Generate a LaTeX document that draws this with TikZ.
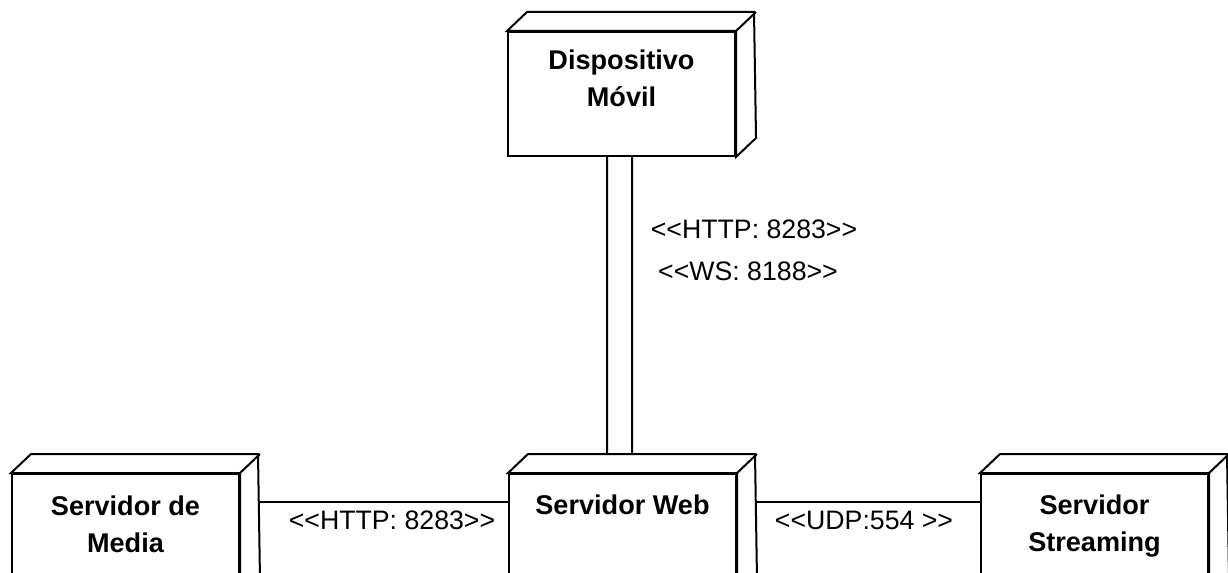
\documentclass[tikz,border=0pt]{standalone}
\usepackage{fontspec}
\newfontfamily\arial{Liberation Sans}
\begin{document}
\begin{tikzpicture}[x=0.5bp,y=-0.5bp,
  front/.style={draw, line width=1bp, fill=white, minimum width=113.5bp, minimum height=62bp, inner sep=0pt, anchor=north west},
  face/.style={draw, line width=1bp, fill=white, line join=miter},
  title/.style={align=center, anchor=north, inner sep=0pt, font=\arial\bfseries\fontsize{13.6}{19}\selectfont},
  lab/.style={inner sep=0pt, font=\arial\fontsize{13.4}{16}\selectfont},
  conn/.style={draw, line width=1bp}]
\useasboundingbox (0,0) rectangle (1228,573);
\clip (0,0) rectangle (1228,573);
\fill[white] (0,0) rectangle (1228,573);

% boxes (front faces)
\node[front] (dm) at (507,31) {};
\node[front] (media) at (11,473) {};
\node[front] (web) at (508,473) {};
\node[front] (stream) at (980,473) {};
% top and side faces
\foreach \n in {dm,media,web,stream}{
  \draw[face] (\n.north west) -- ++(20,-19) -- ++(227,0) -- ([shift={(20,-19)}]\n.south east) -- (\n.south east) -- (\n.north east) -- cycle;
  \draw[face] (\n.north east) -- ++(20,-19);
}
\node[title] (dm-t) at ([yshift=-9bp]dm.north) {Dispositivo\\Móvil};
\node[title] (media-t) at ([yshift=-11bp]media.north) {Servidor de\\Media};
\node[title] (web-t) at ([yshift=-10.5bp]web.north) {Servidor Web};
\node[title] (stream-t) at ([yshift=-10.5bp]stream.north) {Servidor\\Streaming};

% connectors
\draw[conn] ([xshift=50bp]dm.south west) -- ([xshift=49.5bp,yshift=9.5bp]web.north west);
\draw[conn] ([xshift=62.5bp]dm.south west) -- ([xshift=62bp,yshift=9.5bp]web.north west);
\draw[conn] ([xshift=10bp,yshift=-14.5bp]media.north east) -- ([yshift=-14.5bp]web.north west);
\draw[conn] ([xshift=10bp,yshift=-14.5bp]web.north east) -- ([yshift=-14.5bp]stream.north west);

% labels
\node[lab] (l1) at (754,229) {<<HTTP: 8283>>};
\node[lab] (l2) at (748,271) {<<WS: 8188>>};
\node[lab] (l3) at (392,520) {<<HTTP: 8283>>};
\node[lab] (l4) at (864,520) {<<UDP:554 >>};
\end{tikzpicture}
\end{document}
